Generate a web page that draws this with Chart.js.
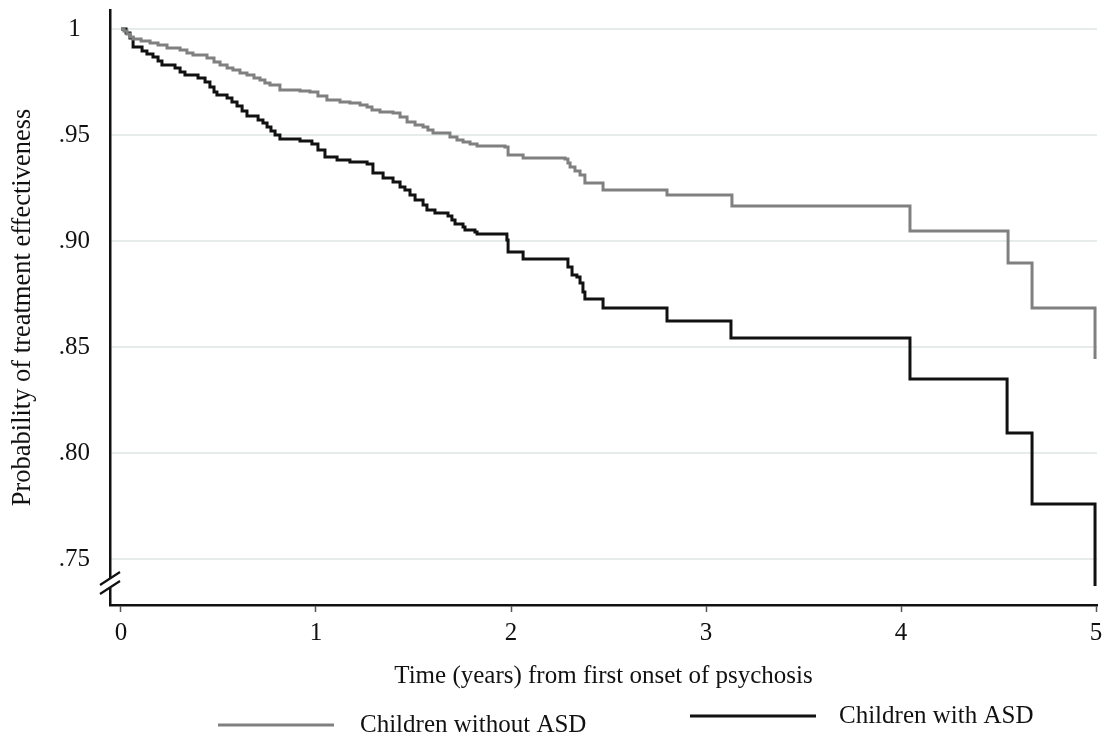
<!DOCTYPE html>
<html>
<head>
<meta charset="utf-8">
<script src="https://cdn.jsdelivr.net/npm/chart.js@4.4.1/dist/chart.umd.min.js"></script>
<style>
  html, body { margin: 0; padding: 0; background: #ffffff; }
  #wrap { width: 1109px; height: 743px; position: relative; }
</style>
</head>
<body>
<div id="wrap"><canvas id="c"></canvas></div>
<script>
// ---- data ----
const seriesLabels = ['Children without ASD', 'Children with ASD'];
const xTicks = [0, 1, 2, 3, 4, 5];
const xTickLabels = ['0', '1', '2', '3', '4', '5'];
const yTicks = [0.75, 0.80, 0.85, 0.90, 0.95, 1];
const yTickLabels = ['.75', '.80', '.85', '.90', '.95', '1'];

const timeWithout = [0, 0.015, 0.031, 0.046, 0.062, 0.103, 0.149, 0.190, 0.236, 0.303, 0.338, 0.369, 0.441, 0.477, 0.508, 0.544, 0.574, 0.610, 0.646, 0.682, 0.713, 0.738, 0.764, 0.815, 0.918, 0.969, 1.010, 1.056, 1.123, 1.174, 1.226, 1.262, 1.287, 1.328, 1.395, 1.431, 1.467, 1.508, 1.549, 1.574, 1.600, 1.687, 1.723, 1.754, 1.790, 1.826, 1.969, 1.985, 2.062, 2.277, 2.292, 2.303, 2.328, 2.354, 2.379, 2.472, 2.800, 3.133, 4.046, 4.549, 4.672, 4.995];
const survWithout = [1.000, 0.9991, 0.9976, 0.9962, 0.9953, 0.9943, 0.9934, 0.9925, 0.9910, 0.9901, 0.9887, 0.9877, 0.9863, 0.9844, 0.9830, 0.9816, 0.9807, 0.9792, 0.9783, 0.9769, 0.9759, 0.9745, 0.9736, 0.9712, 0.9708, 0.9703, 0.9684, 0.9665, 0.9656, 0.9651, 0.9642, 0.9632, 0.9618, 0.9608, 0.9604, 0.9585, 0.9561, 0.9547, 0.9538, 0.9524, 0.9509, 0.9491, 0.9476, 0.9467, 0.9458, 0.9448, 0.9443, 0.9406, 0.9392, 0.9387, 0.9368, 0.9349, 0.9330, 0.9311, 0.9274, 0.9241, 0.9217, 0.9165, 0.9047, 0.8896, 0.8684, 0.8443];

const timeWith = [0, 0.026, 0.046, 0.062, 0.108, 0.133, 0.164, 0.190, 0.210, 0.277, 0.303, 0.328, 0.395, 0.431, 0.456, 0.477, 0.492, 0.544, 0.569, 0.595, 0.621, 0.646, 0.703, 0.728, 0.749, 0.769, 0.790, 0.815, 0.918, 0.979, 1.010, 1.046, 1.108, 1.174, 1.262, 1.292, 1.344, 1.395, 1.431, 1.456, 1.482, 1.508, 1.549, 1.569, 1.610, 1.677, 1.697, 1.713, 1.754, 1.764, 1.815, 1.826, 1.979, 1.985, 2.062, 2.292, 2.313, 2.338, 2.354, 2.369, 2.379, 2.472, 2.800, 3.128, 4.046, 4.544, 4.672, 4.995];
const survWith = [1.000, 0.9981, 0.9958, 0.9915, 0.9896, 0.9882, 0.9868, 0.9849, 0.9830, 0.9816, 0.9797, 0.9783, 0.9769, 0.9750, 0.9726, 0.9703, 0.9689, 0.9675, 0.9656, 0.9637, 0.9613, 0.9590, 0.9571, 0.9557, 0.9538, 0.9519, 0.9500, 0.9481, 0.9472, 0.9458, 0.9429, 0.9396, 0.9382, 0.9373, 0.9363, 0.9321, 0.9297, 0.9278, 0.9255, 0.9241, 0.9217, 0.9193, 0.9170, 0.9146, 0.9132, 0.9118, 0.9099, 0.9080, 0.9066, 0.9052, 0.9042, 0.9033, 0.9005, 0.8948, 0.8915, 0.8877, 0.8840, 0.8830, 0.8802, 0.8759, 0.8726, 0.8684, 0.8623, 0.8542, 0.8349, 0.8094, 0.7759, 0.7373];

const xTitle = 'Time (years) from first onset of psychosis';
const yTitle = 'Probability of treatment effectiveness';

// ---- chart ----
const FONT = '"Liberation Serif", "Times New Roman", serif';
Chart.defaults.font.family = FONT;
Chart.defaults.color = '#111';

const toPts = (ts, ss) => ts.map((t, i) => ({ x: t, y: ss[i] }));

const axisBreak = {
  id: 'axisBreak',
  afterDraw(chart) {
    const ctx = chart.ctx;
    const x = chart.chartArea.left;
    ctx.save();
    ctx.fillStyle = '#fff';
    ctx.fillRect(x - 3, 578, 6, 10);
    ctx.strokeStyle = '#111';
    ctx.lineWidth = 2.2;
    ctx.beginPath();
    ctx.moveTo(x - 10, 585); ctx.lineTo(x + 10, 572);
    ctx.moveTo(x - 10, 594); ctx.lineTo(x + 10, 581);
    ctx.stroke();
    ctx.restore();
  }
};

const customLegend = {
  id: 'customLegend',
  afterDraw(chart) {
    const ctx = chart.ctx;
    const spots = [
      { x1: 218, x2: 334, y: 725, tx: 360 },
      { x1: 690, x2: 816, y: 716, tx: 839 }
    ];
    ctx.save();
    chart.data.datasets.forEach((ds, i) => {
      const s = spots[i];
      ctx.strokeStyle = ds.borderColor;
      ctx.lineWidth = ds.borderWidth;
      ctx.beginPath();
      ctx.moveTo(s.x1, s.y); ctx.lineTo(s.x2, s.y);
      ctx.stroke();
      ctx.fillStyle = '#111';
      ctx.font = '25px ' + FONT;
      ctx.textBaseline = 'middle';
      ctx.textAlign = 'left';
      ctx.fillText(ds.label, s.tx, s.y);
    });
    ctx.restore();
  }
};

new Chart(document.getElementById('c'), {
  type: 'line',
  data: {
    datasets: [
      {
        label: seriesLabels[0],
        data: toPts(timeWithout, survWithout),
        borderColor: '#808080',
        borderWidth: 3,
        stepped: 'before',
        pointRadius: 0,
        fill: false
      },
      {
        label: seriesLabels[1],
        data: toPts(timeWith, survWith),
        borderColor: '#111111',
        borderWidth: 3,
        stepped: 'before',
        pointRadius: 0,
        fill: false
      }
    ]
  },
  options: {
    responsive: true,
    maintainAspectRatio: false,
    animation: false,
    layout: { padding: { left: 0, right: 12, top: 10, bottom: 50 } },
    plugins: {
      legend: { display: false },
      tooltip: { enabled: false }
    },
    scales: {
      x: {
        type: 'linear',
        min: -0.0564,
        max: 5.0051,
        afterBuildTicks(scale) { scale.ticks = xTicks.map(v => ({ value: v })); },
        afterFit(scale) { scale.height = 88; scale.paddingLeft = 0; scale.paddingRight = 0; },
        ticks: {
          font: { size: 25 },
          color: '#111',
          padding: 6,
          maxRotation: 0,
          callback(v) { const i = xTicks.indexOf(v); return i >= 0 ? xTickLabels[i] : ''; }
        },
        grid: { drawOnChartArea: false, drawTicks: true, tickLength: 7, tickWidth: 1.5, tickColor: '#555' },
        border: { display: true, color: '#111', width: 2.5 },
        title: { display: true, text: xTitle, font: { size: 25 }, color: '#111', padding: { top: 0, bottom: 2 } }
      },
      y: {
        type: 'linear',
        min: 1.00896 - 595 / 2120,
        max: 1.00896,
        afterBuildTicks(scale) { scale.ticks = yTicks.map(v => ({ value: v })); },
        afterFit(scale) { scale.width = 110; scale.paddingTop = 0; scale.paddingBottom = 0; },
        ticks: {
          font: { size: 25 },
          color: '#111',
          padding: 20,
          crossAlign: 'center',
          callback(v) {
            const i = yTicks.findIndex(t => Math.abs(t - v) < 1e-9);
            return i >= 0 ? yTickLabels[i] : '';
          }
        },
        grid: { drawOnChartArea: true, drawTicks: false, color: '#e6ebeb', lineWidth: 2 },
        border: { display: true, color: '#111', width: 2.5 },
        title: { display: true, text: yTitle, font: { size: 26.5 }, color: '#111', padding: { top: 7, bottom: 0 } }
      }
    }
  },
  plugins: [axisBreak, customLegend]
});
</script>
</body>
</html>
